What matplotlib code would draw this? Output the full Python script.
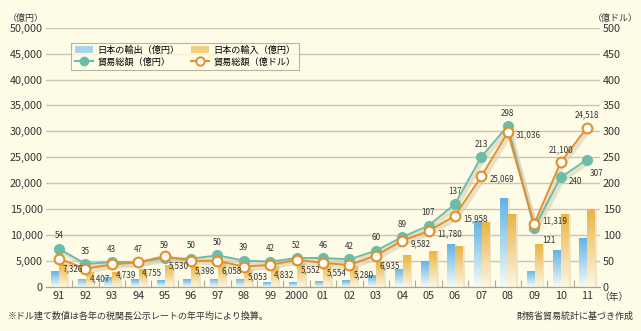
"""
日本の貿易額（輸出・輸入・貿易総額）の推移グラフ。
棒は億円（左軸）、折れ線は貿易総額（億円は左軸、億ドルは右軸）。
"""
import matplotlib
matplotlib.use("Agg")
import matplotlib.pyplot as plt
import numpy as np
from matplotlib.colors import LinearSegmentedColormap
from matplotlib.lines import Line2D
from matplotlib.patches import Patch

plt.rcParams["font.family"] = ["Noto Sans CJK JP", "DejaVu Sans"]
plt.rcParams["axes.unicode_minus"] = False

# 年ラベル
years = ["91", "92", "93", "94", "95", "96", "97", "98", "99", "2000",
         "01", "02", "03", "04", "05", "06", "07", "08", "09", "10", "11"]
# 日本の輸出・輸入（億円）: 図から読み取った概算値
exports = [3000, 1550, 1900, 1400, 1300, 1400, 1550, 1550, 900, 900,
           1100, 1300, 2200, 3500, 5000, 8150, 12600, 17100, 3100, 7100, 9450]
imports = [4300, 2850, 2850, 3350, 4250, 4000, 4500, 3500, 3950, 4650,
           4450, 4000, 4700, 6100, 6800, 7800, 12450, 13950, 8200, 14100, 15050]
# 貿易総額（億円）と（億ドル）
total_yen = [7326, 4407, 4739, 4755, 5530, 5398, 6058, 5053, 4832, 5552,
             5554, 5280, 6935, 9582, 11780, 15958, 25069, 31036, 11319, 21100, 24518]
total_usd = [54, 35, 43, 47, 59, 50, 50, 39, 42, 52,
             46, 42, 60, 89, 107, 137, 213, 298, 121, 240, 307]

BG = "#FEFBE7"
GRID = "#C9C5B3"
GREEN = "#6DBCA7"
ORANGE = "#E2902A"
BLUE_TOP = "#62B4E6"
GOLD_TOP = "#E9B545"

fig = plt.figure(figsize=(6.41, 3.31), dpi=100, facecolor=BG)
ax = fig.add_axes([0.0713, 0.1338, 0.8650, 0.7825], facecolor=BG)
ax2 = ax.twinx()

x = np.arange(len(years))
bar_w = 0.27


def gradient_bars(xs, heights, top_color, bottom_color):
    cmap = LinearSegmentedColormap.from_list("g", [bottom_color, top_color])
    grad = np.linspace(0, 1, 64).reshape(-1, 1)
    bars = ax.bar(xs, heights, width=bar_w, color="none", edgecolor="none", zorder=2)
    for b in bars:
        x0, w, h = b.get_x(), b.get_width(), b.get_height()
        # 右側に薄い影
        ax.add_patch(plt.Rectangle((x0 + w, 0), w * 0.35, h, color="#E6DDBE",
                                   alpha=0.7, zorder=1.5, lw=0))
        im = ax.imshow(grad, extent=(x0, x0 + w, 0, h), origin="lower", cmap=cmap,
                       aspect="auto", zorder=2, interpolation="bilinear")
        im.set_clip_path(b)


gradient_bars(x - 0.15, exports, BLUE_TOP, "#F6FAF2")
gradient_bars(x + 0.15, imports, GOLD_TOP, "#FCF6E2")

# 折れ線（影つき）
usd_scaled = [v * 100 for v in total_usd]
ax.plot(x + 0.08, np.array(total_yen) - 500, color="#D8D0B4", lw=3, alpha=0.6, zorder=3)
ax.plot(x + 0.08, np.array(usd_scaled) - 500, color="#D8D0B4", lw=3, alpha=0.6, zorder=3)
ax.plot(x, total_yen, color=GREEN, lw=1.4, marker="o", ms=7, mfc=GREEN, mec=GREEN, zorder=4)
ax.plot(x, usd_scaled, color=ORANGE, lw=1.4, marker="o", ms=7, mfc="white", mec=ORANGE,
        mew=1.5, zorder=5)

# データラベル（図と同じく、緑の点に億ドル値、橙の点に億円値）
lab_kw = dict(fontsize=5.8, color="#333333", zorder=6)
for i in range(len(years)):
    gy = total_yen[i]
    if years[i] == "09":
        ax.annotate(f"{total_usd[i]}", (i, gy), xytext=(6, -12), textcoords="offset points",
                    ha="left", va="bottom", **lab_kw)
    elif years[i] == "10":
        ax.annotate(f"{total_usd[i]}", (i, gy), xytext=(6, -3), textcoords="offset points",
                    ha="left", va="center", **lab_kw)
    elif years[i] == "11":
        ax.annotate(f"{total_usd[i]}", (i, gy), xytext=(2, -7), textcoords="offset points",
                    ha="left", va="top", **lab_kw)
    else:
        ax.annotate(f"{total_usd[i]}", (i, gy), xytext=(0, 6), textcoords="offset points",
                    ha="center", va="bottom", **lab_kw)

    oy = usd_scaled[i]
    if years[i] in ("10", "11"):
        ax.annotate(f"{total_yen[i]:,}", (i, oy), xytext=(0, 6), textcoords="offset points",
                    ha="center", va="bottom", **lab_kw)
    elif years[i] == "09":
        ax.annotate(f"{total_yen[i]:,}", (i, oy), xytext=(6, 2), textcoords="offset points",
                    ha="left", va="center", **lab_kw)
    elif years[i] in ("08", "07", "06", "05", "04"):
        ax.annotate(f"{total_yen[i]:,}", (i, oy), xytext=(6, -2), textcoords="offset points",
                    ha="left", va="center", **lab_kw)
    else:
        ax.annotate(f"{total_yen[i]:,}", (i, oy), xytext=(3, -4), textcoords="offset points",
                    ha="left", va="top", **lab_kw)

# 軸
ax.set_xlim(-0.5, len(years) - 0.5)
ax.set_ylim(0, 50000)
ax2.set_ylim(0, 500)
ax.set_yticks(np.arange(0, 50001, 5000))
ax.set_yticklabels([f"{v:,}" for v in range(0, 50001, 5000)])
ax2.set_yticks(np.arange(0, 501, 50))
ax.grid(axis="y", color=GRID, lw=1.0, zorder=0)
ax.set_axisbelow(True)
ax.set_xticks(x)
ax.set_xticklabels(years)
ax.set_xticks(np.arange(0.5, len(years) - 1, 1.0), minor=True)
ax.tick_params(axis="x", which="major", length=0, labelsize=7.8, pad=3, colors="#333333")
ax.tick_params(axis="x", which="minor", length=5, direction="in", color="#AFA995", width=0.8)
ax.tick_params(axis="y", length=0, labelsize=7.8, pad=2, colors="#333333")
ax2.tick_params(axis="y", length=0, labelsize=7.8, pad=2, colors="#333333")
for a in (ax, ax2):
    for s in ("top", "left", "right"):
        a.spines[s].set_visible(False)
    a.spines["bottom"].set_color("#A8A290")

fig.text(0.012, 0.945, "（億円）", fontsize=6.5, color="#333333", ha="left", va="center")
fig.text(0.995, 0.945, "（億ドル）", fontsize=6.5, color="#333333", ha="right", va="center")
fig.text(0.935, 0.103, "（年）", fontsize=7, color="#333333", ha="left", va="center")
fig.text(0.012, 0.045, "※ドル建て数値は各年の税関長公示レートの年平均により換算。",
         fontsize=6.5, color="#333333", ha="left", va="center")
fig.text(0.988, 0.045, "財務省貿易統計に基づき作成",
         fontsize=6.5, color="#333333", ha="right", va="center")

handles = [
    Patch(facecolor="#A8D4EF", edgecolor="none", label="日本の輸出（億円）"),
    Line2D([], [], color=GREEN, marker="o", ms=6, mfc=GREEN, mec=GREEN, label="貿易総額（億円）"),
    Patch(facecolor="#F0CE80", edgecolor="none", label="日本の輸入（億円）"),
    Line2D([], [], color=ORANGE, marker="o", ms=6, mfc="white", mec=ORANGE, mew=1.4,
           label="貿易総額（億ドル）"),
]
leg = ax.legend(handles=handles, ncol=2, loc="upper left", bbox_to_anchor=(0.038, 0.96),
                fontsize=6.6, frameon=True, fancybox=False, handlelength=2.0, handleheight=0.8,
                columnspacing=1.2, borderpad=0.35, labelspacing=0.25, handletextpad=0.5)
leg.get_frame().set_facecolor(BG)
leg.get_frame().set_edgecolor("#A8A290")
leg.get_frame().set_linewidth(0.8)
leg.set_zorder(10)

fig.savefig("out.png", dpi=100, facecolor=BG)
